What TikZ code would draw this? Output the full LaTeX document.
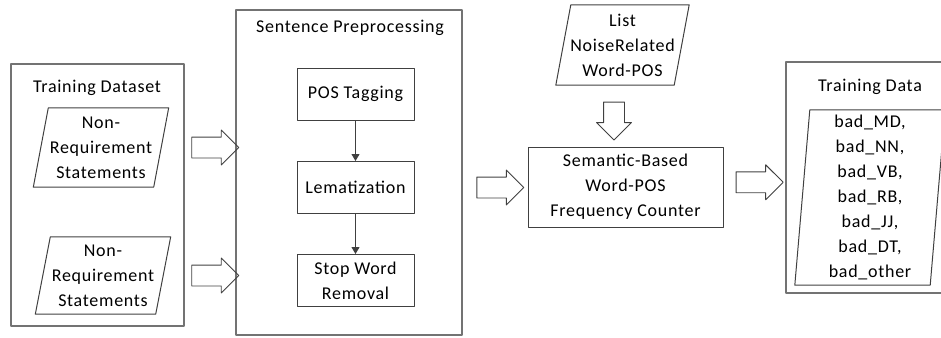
\documentclass[tikz,border=0pt]{standalone}
\usepackage{fontspec}
\setmainfont{Carlito}[LetterSpace=4]
\usetikzlibrary{shapes.arrows,arrows.meta,calc}

\tikzset{
  outerbox/.style={draw=black!55, line width=1.4pt, inner sep=0pt},
  boxline/.style={draw=black!75, line width=1pt},
  procbox/.style={boxline, minimum width=117pt, minimum height=52pt, align=center, inner sep=0pt},
  slanted/.style={align=center, inner sep=0pt},
  fatarrow/.style={single arrow, draw=black!75, line width=0.9pt, inner xsep=0pt, inner ysep=10pt,
    single arrow head extend=7pt, minimum height=47pt},
  flow/.style={boxline, -{Triangle[length=7pt,width=8pt]}},
}

\begin{document}
\begin{tikzpicture}[x=1pt, y=-1pt, font=\fontsize{18pt}{25pt}\selectfont, line join=round]
	\useasboundingbox (0,0) rectangle (941,337);
	% training dataset
	\node[outerbox, minimum width=173pt, minimum height=262pt] (ts) at (97.5,195) {};
	\node (tstitle) at (97,88) {Training Dataset};
	\node[slanted, minimum width=120pt, minimum height=79pt] (nr1) at (101,147.5) {Non-\\Requirement\\Statements};
	\node[slanted, minimum width=120pt, minimum height=77pt] (nr2) at (103,275.5) {Non-\\Requirement\\Statements};
	% sentence preprocessing
	\node[outerbox, minimum width=226pt, minimum height=325pt] (sp) at (349,172.5) {};
	\node (sptitle) at (350,28) {Sentence Preprocessing};
	\node[procbox] (pos) at (355.5,94) {POS Tagging};
	\node[procbox] (lem) at (355.5,187.5) {Lematization};
	\node[procbox] (stop) at (355.5,280.5) {Stop Word\\Removal};
	\draw[flow] (pos) -- (lem);
	\draw[flow] (lem) -- (stop);
	% counter
	\node[slanted, minimum width=118pt, minimum height=80pt] (list) at (622.5,45) {List\\NoiseRelated\\Word-POS};
	\node[procbox, minimum width=195pt, minimum height=80pt] (sem) at (625.5,187) {Semantic-Based\\Word-POS\\Frequency Counter};
	% training data
	\node[outerbox, minimum width=168pt, minimum height=231pt] (tdbox) at (870,177.5) {};
	\node (tdtitle) at (870,87) {Training Data};
	\node[slanted, minimum width=135pt, minimum height=175pt] (tdata) at (870,197.5)
		{bad\_MD,\\bad\_NN,\\bad\_VB,\\bad\_RB,\\bad\_JJ,\\bad\_DT,\\bad\_other};
	\foreach \n in {nr1,nr2,list,tdata}
		\draw[boxline] ([xshift=7.5pt]\n.north west) -- ([xshift=7.5pt]\n.north east)
			-- ([xshift=-7.5pt]\n.south east) -- ([xshift=-7.5pt]\n.south west) -- cycle;
	% hollow arrows
	\node[fatarrow] (a1) at ($(ts.east |- nr1)!0.5!(sp.west |- nr1)$) {};
	\node[fatarrow] (a2) at ($(ts.east |- nr2)!0.5!(sp.west |- nr2)$) {};
	\node[fatarrow] (a3) at ($(sp.east |- lem)!0.5!(sem.west |- lem)$) {};
	\node[fatarrow, rotate=-90, minimum height=38pt] (a4) at ($(list.south)!0.5!(sem.north)+(-10,0)$) {};
	\node[fatarrow] (a5) at ($(sem.east)!0.5!(tdbox.west)$) {};
\end{tikzpicture}
\end{document}
